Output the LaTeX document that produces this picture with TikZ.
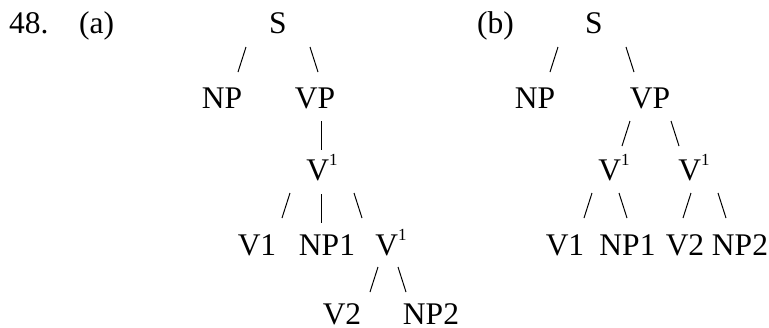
\documentclass[tikz,border=0pt]{standalone}
\usepackage{fontspec}
\setmainfont{Liberation Serif}
\newcommand{\supone}{\raisebox{15pt}{\fontsize{17}{18}\selectfont 1}}
\tikzset{
  lab/.style={inner sep=0pt, anchor=base, font=\fontsize{31.5}{36}\selectfont},
  num/.style={lab, anchor=base west},
  stroke/.style={line width=1pt, line cap=butt}
}
% slash marks: #1 = x of centre, #2 = y of bottom
\newcommand{\fwd}[2]{\draw[stroke] (#1+4,#2-25) -- (#1-4,#2);}
\newcommand{\bck}[2]{\draw[stroke] (#1-4,#2-25) -- (#1+4,#2);}
\newcommand{\vbar}[2]{\draw[stroke] (#1,#2-29) -- (#1,#2);}
\begin{document}
\begin{tikzpicture}[x=1pt,y=-1pt]
\useasboundingbox (0,0) rectangle (769,327);
% labels
\node[num] (n48) at (9,33) {48.};
\node[num] (la) at (79,33) {(a)};
\node[num] (lb) at (477,33) {(b)};
% ---- tree (a)
\node[lab] (aS) at (278,33) {S};
\fwd{242}{72} \bck{314}{72}
\node[lab] (aNP) at (222,108) {NP};
\node[lab] (aVP) at (315,108) {VP};
\vbar{321}{150}
\node[lab] (aV1) at (322,180) {V\supone};
\fwd{286}{218} \vbar{321}{223} \bck{358}{218}
\node[lab] (aVa) at (257,255) {V1};
\node[lab] (aNPa) at (327,255) {NP1};
\node[lab] (aV2) at (391,255) {V\supone};
\fwd{374}{292} \bck{402}{292}
\node[lab, text depth=0pt] (aVb) at (342,324) {V2};
\node[lab, text depth=0pt] (aNPb) at (431,324) {NP2};
% ---- tree (b)
\node[lab] (bS) at (594,33) {S};
\fwd{554}{72} \bck{630}{72}
\node[lab] (bNP) at (535,108) {NP};
\node[lab] (bVP) at (650,108) {VP};
\fwd{626}{146} \bck{675}{146}
\node[lab] (bV1) at (614,180) {V\supone};
\node[lab] (bV2) at (694,180) {V\supone};
\fwd{588}{218} \bck{623}{218} \fwd{687}{218} \bck{722}{218}
\node[lab] (bVa) at (565,255) {V1};
\node[lab] (bNPa) at (627.5,255) {NP1};
\node[lab] (bVb) at (685,255) {V2};
\node[lab] (bNPb) at (740,255) {NP2};
\end{tikzpicture}
\end{document}
